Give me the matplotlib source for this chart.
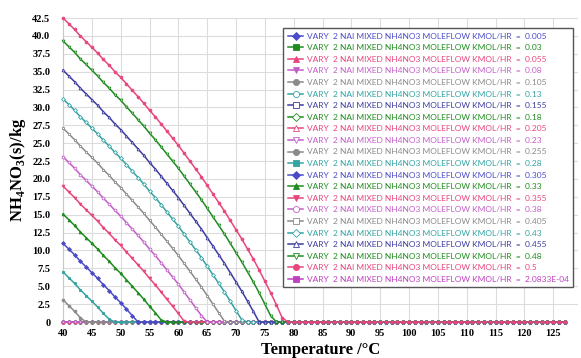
import matplotlib
matplotlib.use("Agg")
import matplotlib.pyplot as plt

plt.rcParams['mathtext.fontset'] = 'custom'
plt.rcParams['mathtext.rm'] = 'Liberation Serif:bold'
plt.rcParams['mathtext.bf'] = 'Liberation Serif:bold'

# temperatures, 1 degree steps
temps = list(range(40, 128))

flows = ['0.005', '0.03', '0.055', '0.08', '0.105', '0.13', '0.155', '0.18',
         '0.205', '0.23', '0.255', '0.28', '0.305', '0.33', '0.355', '0.38',
         '0.405', '0.43', '0.455', '0.48', '0.5', '2.0833E-04']

# solid NH4NO3 (kg), non-zero part; rest of each curve is 0
head_0255 = [3.1, 2.3, 1.5, 0.6]
head_028 = [7.0, 6.2, 5.4, 4.5, 3.7, 2.9, 2.1, 1.2, 0.4]
head_0305 = [11.0, 10.2, 9.4, 8.5, 7.7, 6.9, 6.1, 5.2, 4.4, 3.5, 2.7, 1.8, 0.9]
head_033 = [15.1, 14.3, 13.5, 12.6, 11.8, 11.0, 10.2, 9.3, 8.5, 7.6, 6.8, 5.9,
            5.0, 4.1, 3.2, 2.2, 1.3, 0.3]
head_0355 = [19.0, 18.2, 17.4, 16.5, 15.7, 14.9, 14.1, 13.2, 12.4, 11.5, 10.7,
             9.8, 8.9, 8.0, 7.1, 6.1, 5.2, 4.2, 3.2, 2.2, 1.2, 0.1]
head_038 = [23.1, 22.3, 21.5, 20.6, 19.8, 19.0, 18.2, 17.3, 16.5, 15.6, 14.8,
            13.9, 13.0, 12.1, 11.2, 10.2, 9.3, 8.3, 7.3, 6.3, 5.3, 4.2, 3.1,
            2.0, 0.9]
head_0405 = [27.1, 26.3, 25.5, 24.6, 23.8, 23.0, 22.2, 21.3, 20.5, 19.6, 18.8,
             17.9, 17.0, 16.1, 15.2, 14.2, 13.3, 12.3, 11.3, 10.3, 9.3, 8.2,
             7.1, 6.0, 4.9, 3.7, 2.5, 1.3, 0.1]
head_043 = [31.2, 30.4, 29.6, 28.7, 27.9, 27.1, 26.3, 25.4, 24.6, 23.7, 22.9,
            22.0, 21.1, 20.2, 19.3, 18.3, 17.4, 16.4, 15.4, 14.4, 13.4, 12.3,
            11.2, 10.1, 9.0, 7.8, 6.6, 5.4, 4.2, 2.9, 1.6, 0.3]
head_0455 = [35.2, 34.4, 33.6, 32.7, 31.9, 31.1, 30.3, 29.4, 28.6, 27.7, 26.9,
             26.0, 25.1, 24.2, 23.3, 22.3, 21.4, 20.4, 19.4, 18.4, 17.4, 16.3,
             15.2, 14.1, 13.0, 11.8, 10.6, 9.4, 8.2, 6.9, 5.6, 4.3, 2.9, 1.5]
head_048 = [39.3, 38.5, 37.7, 36.8, 36.0, 35.2, 34.4, 33.5, 32.7, 31.8, 31.0,
            30.1, 29.2, 28.3, 27.4, 26.4, 25.5, 24.5, 23.5, 22.5, 21.5, 20.4,
            19.3, 18.2, 17.1, 15.9, 14.7, 13.5, 12.3, 11.0, 9.7, 8.4, 7.0, 5.6,
            4.1, 2.5, 0.9]
head_05 = [42.5, 41.7, 40.9, 40.0, 39.2, 38.4, 37.6, 36.7, 35.9, 35.0, 34.2,
           33.3, 32.4, 31.5, 30.6, 29.6, 28.7, 27.7, 26.7, 25.7, 24.7, 23.6,
           22.5, 21.4, 20.3, 19.1, 17.9, 16.7, 15.5, 14.2, 12.9, 11.6, 10.2,
           8.8, 7.3, 5.7, 4.1, 2.4, 0.6]

heads = [[], [], [], [], [], [], [], [], [], [], head_0255, head_028, head_0305,
         head_033, head_0355, head_038, head_0405, head_043, head_0455,
         head_048, head_05, []]

blue = '#4b4bc8'
green = '#1e8c1e'
pink = '#e8457e'
purple = '#c35ec8'
gray = '#8a8a8a'
teal = '#33a3a3'
navy = '#3c3ca0'
magenta = '#c040c0'

colors = [blue, green, pink, purple, gray, teal, navy, green, pink, purple,
          gray, teal, blue, green, pink, purple, gray, teal, navy, green,
          pink, magenta]
markers = ['D', 's', '^', 'v', 'o', 'o', 's', 'D', '^', 'v',
           'o', 's', 'D', '^', 'v', 'o', 's', 'D', '^', 'v', 'o', 's']
filled = [True, True, True, True, True, False, False, False, False, False,
          True, True, True, True, True, False, False, False, False, False,
          True, True]

fig = plt.figure(figsize=(5.81, 3.58), dpi=100)
ax = fig.add_axes([63 / 581, 1 - 322 / 358, 515 / 581, 304 / 358])

handles = [None] * len(flows)
# draw the tiny flow first so the others sit on top of the zero line
order = [len(flows) - 1] + list(range(len(flows) - 1))
for z, i in enumerate(order):
    vals = heads[i] + [0.0] * (len(temps) - len(heads[i]))
    c = colors[i]
    h, = ax.plot(temps, vals, color=c, lw=1.1, marker=markers[i], ms=2.0,
                 mfc=c if filled[i] else 'white', mec=c, mew=0.6,
                 clip_on=False, zorder=3 + z,
                 label='VARY  2 NAI MIXED NH4NO3 MOLEFLOW KMOL/HR  =  ' + flows[i])
    handles[i] = h

ax.set_xlim(40, 129.3)
ax.set_ylim(0, 42.5)
ax.set_xticks(range(40, 130, 5))
yt = [k * 2.5 for k in range(18)]
ax.set_yticks(yt)
ax.set_yticklabels(['0' if v == 0 else '%.1f' % v for v in yt])
for lab in ax.get_xticklabels() + ax.get_yticklabels():
    lab.set_fontfamily('Liberation Serif')
    lab.set_fontweight('bold')
    lab.set_fontsize(7.5)
ax.tick_params(axis='y', length=0, pad=9)
ax.tick_params(axis='x', length=0, pad=5)
ax.grid(True, color='#dcdcdc', lw=0.8)
ax.set_axisbelow(True)
for s in ['top', 'right', 'bottom']:
    ax.spines[s].set_visible(False)
ax.spines['left'].set_color('#c8c8c8')

ax.set_xlabel('Temperature /°C', fontfamily='Liberation Serif',
              fontweight='bold', fontsize=12, labelpad=3)
ax.set_ylabel(r'NH$_{4}$NO$_{3}$(s)/kg', fontfamily='Liberation Serif',
              fontweight='bold', fontsize=12, labelpad=3)

leg = ax.legend(handles=handles, loc='upper left',
                bbox_to_anchor=(283 / 581, 1 - 28 / 358),
                bbox_transform=fig.transFigure, borderaxespad=0,
                prop={'family': 'Lato', 'size': 6.0}, labelcolor='linecolor',
                markerscale=2.2, handlelength=1.9, handletextpad=0.4,
                labelspacing=0.55, borderpad=0.55, fancybox=False,
                framealpha=1, edgecolor='#555555')
leg.get_frame().set_linewidth(1.0)
leg.set_zorder(50)

fig.savefig('out.png', dpi=100)
